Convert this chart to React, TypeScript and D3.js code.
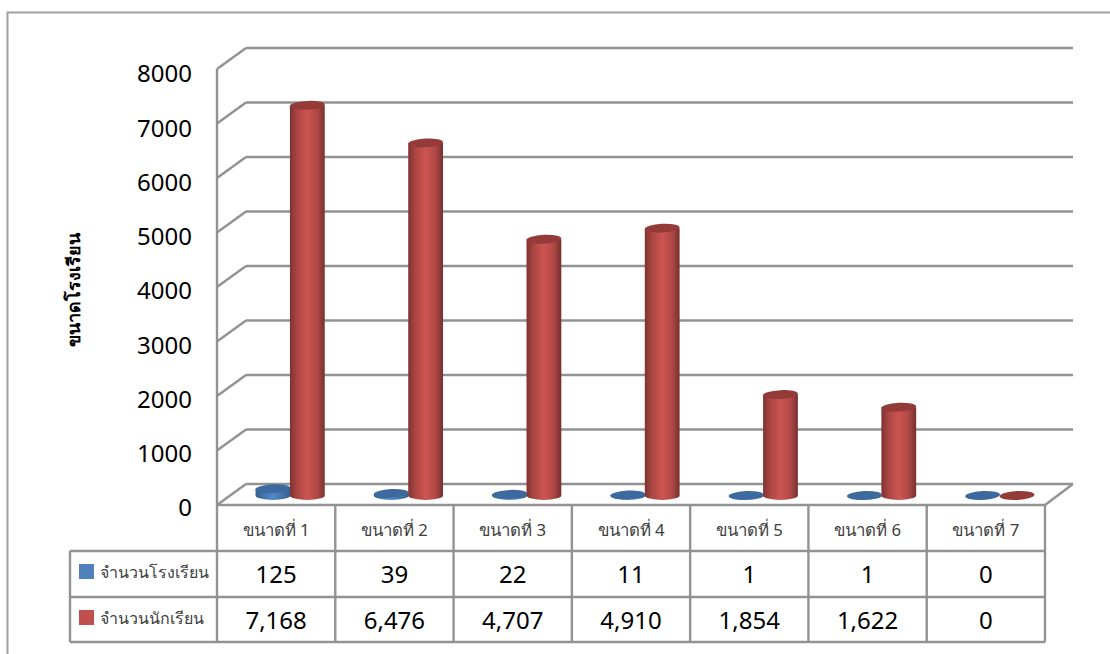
import React from "react";
import * as d3 from "d3";

const categories = ["ขนาดที่ 1", "ขนาดที่ 2", "ขนาดที่ 3", "ขนาดที่ 4", "ขนาดที่ 5", "ขนาดที่ 6", "ขนาดที่ 7"];
const schools = [125, 39, 22, 11, 1, 1, 0];
const students = [7168, 6476, 4707, 4910, 1854, 1622, 0];
const yTicks = [0, 1000, 2000, 3000, 4000, 5000, 6000, 7000, 8000];
const seriesNames = ["จำนวนโรงเรียน", "จำนวนนักเรียน"];

const W = 1110, H = 654;
const GRID = "#929292";
const FONT = "'Noto Sans', 'Open Sans', sans-serif";

// Front plane of the 3D box and its depth offset
const front = { x0: 217, x1: 1045, y0: 505, y1: 69 };
const depth = { dx: 29, dy: -21 };
const backRightX = 1073;

const yFront = d3.scaleLinear().domain([0, 8000]).range([front.y0, front.y1]);
const yBack = d3.scaleLinear().domain([0, 8000]).range([front.y0 + depth.dy, front.y1 + depth.dy]);
const yLabel = d3.scaleLinear().domain([0, 8000]).range([510, 76]);
// Cylinders stand midway between the front plane and the back wall
const yBar = d3.scaleLinear().domain([0, 8000]).range([495.5, 60]);
const xCat = d3.scaleBand<number>().domain(d3.range(categories.length)).range([front.x0, front.x1]);
const rx = 17.4, ry = 4.4, tilt = -3;

function Cylinder({ cx, value, s }: { cx: number; value: number; s: "b" | "r" }) {
  const base = yBar(0), top = yBar(value);
  const bodyPath = `M${cx - rx},${top} L${cx - rx},${base} A${rx},${ry} 0 0 0 ${cx + rx},${base} L${cx + rx},${top} Z`;
  return (
    <g>
      {value > 0 && <path d={bodyPath} fill={`url(#body-${s})`} />}
      <ellipse cx={cx} cy={top} rx={rx} ry={ry} fill={s === "b" ? "#3d6a9e" : "#943a38"}
        transform={`rotate(${tilt} ${cx} ${top})`} />
    </g>
  );
}

export default function App() {
  const rowY = [505, 551, 597, 642];
  const colEdges = categories.map((_, i) => xCat(i)!).concat(front.x1);
  const bw = xCat.bandwidth();
  return (
    <svg width={W} height={H} viewBox={`0 0 ${W} ${H}`}
      style={{ position: "absolute", left: 0, top: 0, background: "#fff", fontFamily: FONT }}>
      <defs>
        <linearGradient id="body-r" x1="0" x2="1" y1="0" y2="0">
          <stop offset="0" stopColor="#7d3331" />
          <stop offset="0.22" stopColor="#ad4744" />
          <stop offset="0.5" stopColor="#cd5451" />
          <stop offset="0.78" stopColor="#b04845" />
          <stop offset="1" stopColor="#753130" />
        </linearGradient>
        <linearGradient id="body-b" x1="0" x2="1" y1="0" y2="0">
          <stop offset="0" stopColor="#35608f" />
          <stop offset="0.5" stopColor="#5289cb" />
          <stop offset="1" stopColor="#35608f" />
        </linearGradient>
      </defs>

      {/* outer frame */}
      <path d={`M7.5,${H} V12.5 H${W}`} fill="none" stroke="#a0a0a0" strokeWidth={2} />

      {/* grid: back lines + left wall diagonals */}
      {yTicks.map((t) => (
        <g key={t} stroke={GRID} strokeWidth={2.4} fill="none">
          <line x1={front.x0 + depth.dx} x2={backRightX} y1={yBack(t)} y2={yBack(t)} />
          <line x1={front.x0} y1={yFront(t)} x2={front.x0 + depth.dx} y2={yBack(t)} />
        </g>
      ))}
      <line x1={front.x0} x2={front.x0} y1={yFront(8000)} y2={yFront(0)} stroke={GRID} strokeWidth={2.4} />
      <line x1={front.x1} y1={yFront(0)} x2={backRightX} y2={yBack(0)} stroke={GRID} strokeWidth={2.4} />

      {/* y tick labels */}
      {yTicks.map((t) => (
        <text key={t} x={192} y={yLabel(t)} textAnchor="end" dominantBaseline="middle" fontSize={24} fill="#000">
          {t}
        </text>
      ))}

      {/* axis title */}
      <text transform="translate(80,290) rotate(-90)" textAnchor="middle" fontSize={18} fontWeight={700} fill="#000">
        ขนาดโรงเรียน
      </text>

      {/* cylinders */}
      {categories.map((_, i) => {
        const c = xCat(i)! + bw / 2;
        return (
          <g key={i}>
            <Cylinder cx={c - 3.2} value={schools[i]} s="b" />
            <Cylinder cx={c + 31.2} value={students[i]} s="r" />
          </g>
        );
      })}

      {/* data table */}
      <g stroke={GRID} strokeWidth={2.4} fill="none">
        <line x1={front.x0} x2={front.x1} y1={rowY[0]} y2={rowY[0]} />
        <line x1={70} x2={front.x1} y1={rowY[1]} y2={rowY[1]} />
        <line x1={70} x2={front.x1} y1={rowY[2]} y2={rowY[2]} />
        <line x1={70} x2={front.x1} y1={rowY[3]} y2={rowY[3]} />
        <line x1={70} x2={70} y1={rowY[1]} y2={rowY[3]} />
        {colEdges.map((x, i) => (
          <line key={i} x1={x} x2={x} y1={rowY[0]} y2={rowY[3]} />
        ))}
      </g>

      {categories.map((c, i) => {
        const m = xCat(i)! + bw / 2;
        return (
          <g key={c}>
            <text x={m} y={531} textAnchor="middle" dominantBaseline="middle" fontSize={16.8} fill="#404040">{c}</text>
            <text x={m} y={577} textAnchor="middle" dominantBaseline="middle" fontSize={24} fill="#000">
              {d3.format(",")(schools[i])}
            </text>
            <text x={m} y={623} textAnchor="middle" dominantBaseline="middle" fontSize={24} fill="#000">
              {d3.format(",")(students[i])}
            </text>
          </g>
        );
      })}

      {seriesNames.map((n, i) => (
        <g key={n}>
          <rect x={79} y={564 + i * 46} width={15} height={15} fill={i === 0 ? "#4f81bd" : "#c0504d"} />
          <text x={100} y={574 + i * 46} dominantBaseline="middle" fontSize={16} fill="#404040">{n}</text>
        </g>
      ))}
    </svg>
  );
}
